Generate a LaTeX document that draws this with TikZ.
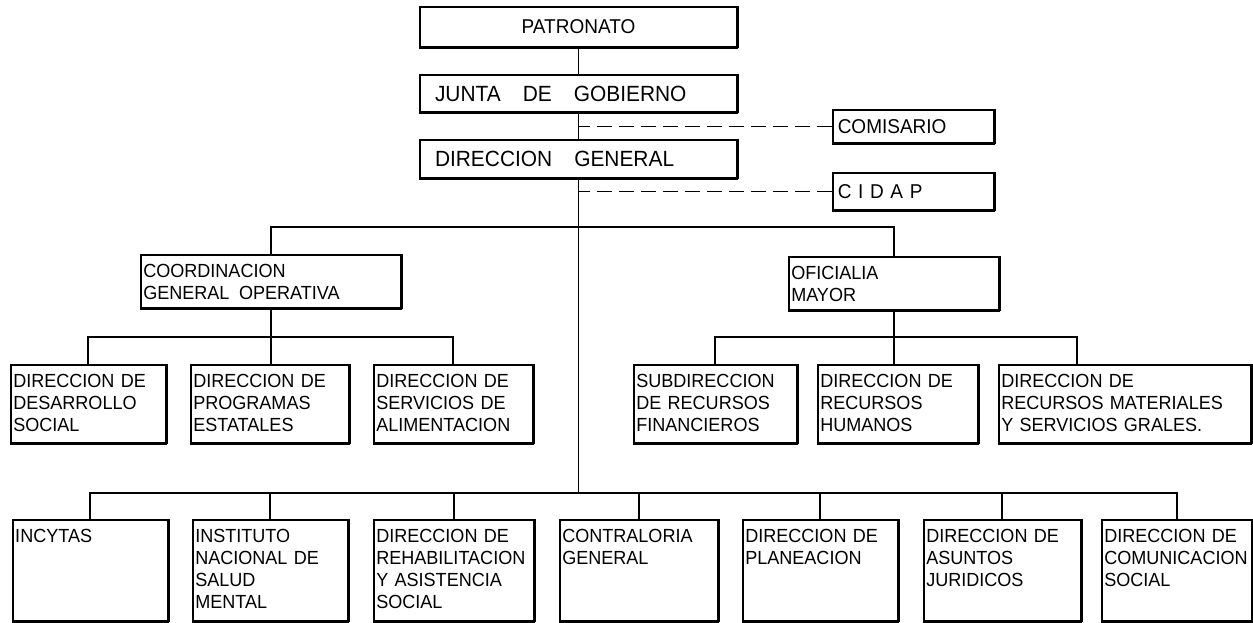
\documentclass[tikz,border=0pt]{standalone}
\usepackage{fontspec}
\setmainfont{Liberation Sans}[FakeStretch=0.95]
\usepackage{tikz}
\hyphenpenalty=10000
\tikzset{
	rim/.style={append after command={
		(\tikzlastnode.north east) edge[line width=3pt, line cap=square] (\tikzlastnode.south east)
		(\tikzlastnode.south east) edge[line width=3pt, line cap=square] (\tikzlastnode.south west)}},
	office/.style={draw, line width=1.5pt, anchor=north west, align=left,
		inner xsep=2.5pt, inner ysep=3pt, text height=20pt,
		font=\fontsize{19}{22}\selectfont, rim},
	dept/.style={office, text width=#1, text depth=75pt},
	branch/.style={office, text width=#1, text depth=52pt},
	chief/.style={office, text width=#1, text depth=27pt},
	head/.style={draw, line width=1.5pt, minimum width=317pt, minimum height=#1,
		inner xsep=15pt, text width=287pt, align=left,
		font=\fontsize{22}{24}\selectfont, rim},
	aide/.style={draw, line width=1.5pt, anchor=west, minimum height=#1,
		inner xsep=5pt, text width=151pt, align=left,
		font=\fontsize{20}{22}\selectfont, rim},
	link/.style={line width=1.7pt},
	advice/.style={line width=1.5pt, dash pattern=on 15pt off 7pt}
}
\begin{document}
\begin{tikzpicture}[x=1pt, y=-1pt]
	\useasboundingbox (0,0) rectangle (1253,623);
	% top of the chart
	\node[head=40pt, align=center, font=\fontsize{20}{22}\selectfont] (pat) at (578.5,27) {PATRONATO};
	\node[head=37pt] (jun) at (578.5,93.5) {JUNTA\quad DE\quad GOBIERNO};
	\node[head=38pt] (dg) at (578.5,159) {DIRECCION\quad GENERAL};
	\node[aide=33pt] (com) at (832,126.5) {COMISARIO};
	\node[aide=37pt] (cid) at (832,191.5) {C~I~D~A~P};
	% coordinations
	\node[chief=255pt] (cgo) at (140,254) {COORDINACION\\GENERAL\enspace OPERATIVA};
	\node[chief=205pt] (ofi) at (788,256) {OFICIALIA\\MAYOR};
	% middle row
	\node[branch=150pt] (dds) at (10,364) {DIRECCION DE\\DESARROLLO\\SOCIAL};
	\node[branch=153pt] (dpe) at (190,364) {DIRECCION DE\\PROGRAMAS\\ESTATALES};
	\node[branch=154pt] (dsa) at (373,364) {DIRECCION DE\\SERVICIOS DE\\ALIMENTACION};
	\node[branch=158pt] (srf) at (633,364) {SUBDIRECCION\\DE RECURSOS\\FINANCIEROS};
	\node[branch=155pt] (drh) at (817,364) {DIRECCION DE\\RECURSOS\\HUMANOS};
	\node[branch=247pt] (drm) at (998,364) {DIRECCION DE\\RECURSOS MATERIALES\\Y SERVICIOS GRALES.};
	% bottom row
	\node[dept=150pt] (inc) at (12,519) {INCYTAS};
	\node[dept=150pt] (ins) at (192,519) {INSTITUTO\\NACIONAL DE\\SALUD\\MENTAL};
	\node[dept=155pt] (dra) at (373,519) {DIRECCION DE\\REHABILITACION\\Y ASISTENCIA\\SOCIAL};
	\node[dept=153pt] (con) at (559,519) {CONTRALORIA\\GENERAL};
	\node[dept=150pt] (pla) at (742,519) {DIRECCION DE\\PLANEACION};
	\node[dept=152pt] (asu) at (923,519) {DIRECCION DE\\ASUNTOS\\JURIDICOS};
	\node[dept=145pt] (cso) at (1101,519) {DIRECCION DE\\COMUNICACION\\SOCIAL};
	% connectors
	\coordinate (top) at (578.5,227);
	\coordinate (hub) at (578.5,493);
	\coordinate (drmtop) at (1077,364);
	\draw[link] (pat) -- (jun);
	\draw[link] (jun) -- (dg);
	\draw[link] (dg) -- (hub);
	\draw[advice] (com.west) -- (com.west -| dg.south);
	\draw[advice] (cid.west) -- (cid.west -| dg.south);
	\draw[link] (cgo.north) |- (top) -| (ofi.north);
	\draw[link] (cgo.south) -- (cgo.south |- dpe.north);
	\draw[link] (dds.north) -- ++(0,-27) -| (dsa.north);
	\draw[link] (ofi.south) -- (ofi.south |- drh.north);
	\draw[link] (srf.north) -- ++(0,-27) -| (drmtop);
	\draw[link] (inc.north) |- (hub) -| (cso.north);
	\foreach \n in {ins,dra,con,pla,asu}
		\draw[link] (\n.north) -- (\n.north |- hub);
\end{tikzpicture}
\end{document}
